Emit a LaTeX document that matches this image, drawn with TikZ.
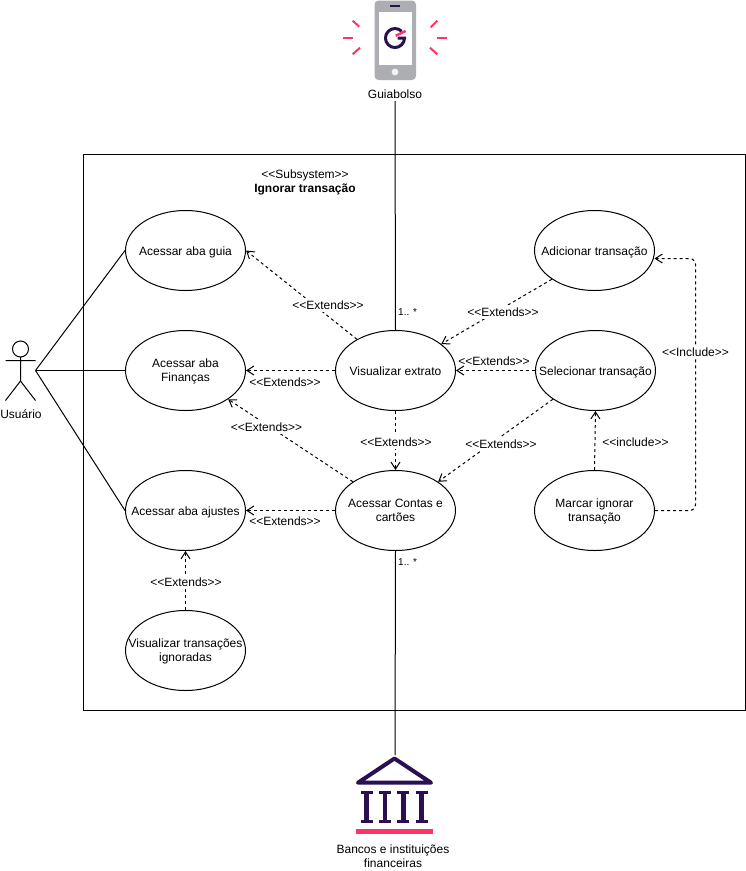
\documentclass[tikz,border=0pt]{standalone}
\usepackage{fontspec}
\setmainfont{Liberation Sans}
\usetikzlibrary{shapes.geometric,arrows.meta}
\definecolor{pinkc}{HTML}{FF3366}
\definecolor{navyc}{HTML}{2A1050}
\definecolor{grayc}{HTML}{ADAEB3}
\tikzset{
  uc/.style={draw=black,fill=white,ellipse,minimum width=120pt,minimum height=80pt,inner xsep=-30pt,inner ysep=0pt,align=center,line width=1pt,font=\fontsize{12}{14}\selectfont,text height=10.5pt,text depth=1.5pt},
  lbl/.style={inner sep=1pt,align=center,font=\fontsize{12}{14}\selectfont,text height=10.5pt,text depth=1.5pt},
  twolines/.style={text height=24.5pt,text depth=2.5pt},
  lblw/.style={lbl,fill=white},
  mult/.style={inner sep=0pt,anchor=west,font=\fontsize{10}{12}\selectfont},
  assoc/.style={draw=black,line width=1pt},
  dep/.style={draw=black,line width=1pt,dash pattern=on 3pt off 3pt,-{Straight Barb[length=7pt,width=9pt,line width=1pt]}},
  ray/.style={draw=pinkc,line width=2pt},
  navy/.style={draw=navyc,line width=4pt},
}
\begin{document}
\begin{tikzpicture}[x=1pt,y=-1pt]
\useasboundingbox (0,0) rectangle (746,871);
\fill[white] (0,0) rectangle (746,871);
% subsystem frame
\draw[black,line width=1pt] (83.5,154.5) rectangle (745.5,710.5);
\node[lbl,twolines] (sys) at (305,181) {<{}<Subsystem>{}>\\\textbf{Ignorar transação}};
% phone
\fill[grayc,rounded corners=4pt] (374.5,0.5) rectangle (416,80);
\fill[white] (379,12) rectangle (411.5,64.5);
\draw[navyc,line width=1.2pt] (390,6) -- (400,6);
\fill[white!85!grayc] (395,72) circle (3.4);
\draw[navyc,line width=3pt] (401.7,31.3) arc[start angle=-45,end angle=-360,radius=9.5] -- (397.7,38);
\draw[pinkc,line width=2.4pt] (395.7,35.7) -- (405.7,31);
\foreach \a/\b/\c/\d in {352.7/20.7/359.3/26.7,343.3/37.5/352.7/37.5,352.7/54.3/360/47.7,437.3/20.7/430.7/27.3,437.3/37.5/446.7/37.5,437.3/54.3/430/47.7}
  \draw[ray] (\a,\b) -- (\c,\d);
\node[lbl] (gb) at (395,94) {Guiabolso};
% bank
\draw[navy,line join=round] (358,782.7) -- (394.5,758.5) -- (431,782.7) -- cycle;
\foreach \x in {366.7,385,403.3,421.7}{
  \draw[navyc,line width=4.5pt] (\x,791) -- (\x,823);
  \draw[navyc,line width=3pt] (\x-6,792.2) -- (\x+6,792.2);
  \draw[navyc,line width=3pt] (\x-6,821.8) -- (\x+6,821.8);
}
\fill[pinkc] (356,829.3) rectangle (432.7,834.3);
\node[lbl,twolines] (bank) at (393,856) {Bancos e instituições\\financeiras};
\coordinate (banktop) at (395,755);
% actor
\draw[black,line width=1pt] (20.5,349) circle (8);
\coordinate (act) at (35.5,370.5);
\draw[black,line width=1pt] (20.5,357) -- (20.5,381) (5.5,360.5) -- (35.5,360.5) (5.5,400.5) -- (20.5,381) -- (35.5,400.5);
\node[lbl] (usr) at (21,414) {Usuário};
% use cases
\node[uc] (guia) at (185.5,250.5) {Acessar aba guia};
\node[uc,twolines] (fin) at (185.5,370.5) {Acessar aba\\Finanças};
\node[uc] (aju) at (185.5,510.5) {Acessar aba ajustes};
\node[uc,twolines] (vis) at (185.5,650.5) {Visualizar transações\\ignoradas};
\node[uc] (ext) at (395.5,370.5) {Visualizar extrato};
\node[uc,twolines] (con) at (395.5,510.5) {Acessar Contas e\\cartões};
\node[uc] (adi) at (594.5,250.5) {Adicionar transação};
\node[uc] (sel) at (595.5,370.5) {Selecionar transação};
\node[uc,twolines] (mar) at (594.5,510.5) {Marcar ignorar\\transação};
% associations
\draw[assoc] (act) -- (guia.west);
\draw[assoc] (act) -- (fin.west);
\draw[assoc] (act) -- (aju.west);
\draw[assoc] (gb.south) -- (ext.north);
\draw[assoc] (con.south) -- (banktop);
% dependencies
\draw[dep] (ext.141) -- (guia.east);
\draw[dep] (ext.west) -- (fin.east);
\draw[dep] (con.146) -- (fin.-34);
\draw[dep] (ext.south) -- (con.north);
\draw[dep] (con.west) -- (aju.east);
\draw[dep] (vis.north) -- (aju.south);
\draw[dep] (adi.214) -- (ext.30);
\draw[dep] (sel.west) -- (ext.east);
\draw[dep] (sel.214) -- (con.34);
\draw[dep] (mar.north) -- (sel.south);
\draw[dep,rounded corners=6pt] (mar.east) -- (695.5,510.5) -- (695.5,258.5) -- (654.5,258.5);
% labels
\node[lblw] (l1) at (328,305) {<{}<Extends>{}>};
\node[lbl] (l2) at (285,382) {<{}<Extends>{}>};
\node[lblw] (l3) at (266.5,427) {<{}<Extends>{}>};
\node[lblw] (l4) at (396,442) {<{}<Extends>{}>};
\node[lbl] (l5) at (285,521) {<{}<Extends>{}>};
\node[lblw] (l6) at (186,582) {<{}<Extends>{}>};
\node[lblw] (l7) at (503,312) {<{}<Extends>{}>};
\node[lbl] (l8) at (494,361) {<{}<Extends>{}>};
\node[lblw] (l9) at (501,444) {<{}<Extends>{}>};
\node[lblw] (l10) at (635.5,442) {<{}<include>{}>};
\node[lblw] (l11) at (695.5,352) {<{}<Include>{}>};
\node[mult] (m1) at (398,312) {1.. *};
\node[mult] (m2) at (398,562) {1.. *};
\end{tikzpicture}
\end{document}
